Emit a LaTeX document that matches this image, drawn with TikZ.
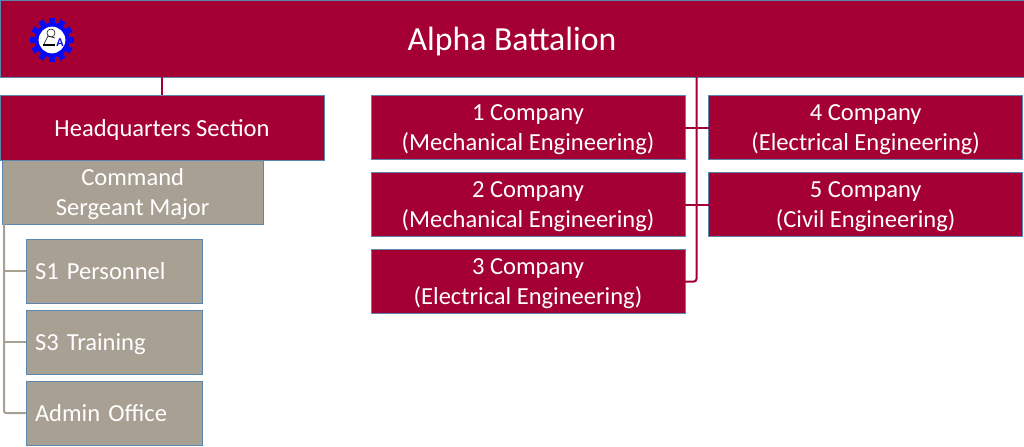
\documentclass[tikz,border=0pt]{standalone}
\usepackage{fontspec}
\setmainfont{Carlito}
\usetikzlibrary{positioning, calc}
\definecolor{crimbox}{HTML}{A50034}
\definecolor{taupebox}{HTML}{A9A094}
\definecolor{edgeblue}{HTML}{5B87AE}
\definecolor{gearblue}{HTML}{0A0AF0}
\tikzset{
  unitbox/.style ={rectangle, draw=edgeblue, fill=crimbox, line width=0.75pt, outer sep=0pt,
                   text=white, align=center, minimum width=235.5pt, minimum height=48pt,
                   inner sep=0pt, text depth=0pt, font=\fontsize{18.4}{23}\selectfont},
  hqbox/.style   ={unitbox, minimum width=243pt, minimum height=48.75pt},
  cmdbox/.style  ={unitbox, fill=taupebox, minimum width=196pt},
  staffbox/.style={unitbox, fill=taupebox, minimum width=132pt, text width=118.5pt,
                   align=left},
  crimline/.style={draw=crimbox, line width=1.5pt},
  taupeline/.style={draw=taupebox, line width=1.5pt, line join=round},
}
\begin{document}
\begin{tikzpicture}[x=0.75pt, y=-0.75pt]
    \useasboundingbox (0,0) rectangle (1024,446);
    \node[unitbox, anchor=north west, minimum width=768pt, minimum height=57.75pt,
          font=\fontsize{25.3}{30}\selectfont] (top) at (0,0) {Alpha Battalion};

    \node[hqbox, below right=13.5pt and 0pt of top.south west] (hq) {Headquarters Section};
    \node[cmdbox, below right=0pt and 1.5pt of hq.south west] (cmd) {Command\\Sergeant Major};
    \node[staffbox, below right=11.25pt and 18pt of cmd.south west] (s1) {S1 Personnel};
    \node[staffbox, below=5.25pt of s1] (s3) {S3 Training};
    \node[staffbox, below=5.25pt of s3] (admin) {Admin Office};

    \node[unitbox, anchor=north west] (co1) at (371,95.5) {1 Company\\(Mechanical Engineering)};
    \node[unitbox, below=9.75pt of co1] (co2) {2 Company\\(Mechanical Engineering)};
    \node[unitbox, below=9.75pt of co2] (co3) {3 Company\\(Electrical Engineering)};
    \node[unitbox, right=17.75pt of co1] (co4) {4 Company\\(Electrical Engineering)};
    \node[unitbox, right=17.75pt of co2] (co5) {5 Company\\(Civil Engineering)};

    % logo
    \coordinate (logo) at (52,40);
    \foreach \a in {0,30,...,330}
      \fill[gearblue, rotate around={\a:(logo)}] ($(logo)+(-3,-22)$) rectangle ($(logo)+(3,-14)$);
    \fill[gearblue] (logo) circle[radius=13pt];
    \fill[white] (logo) circle[radius=10pt];
    \fill[black] ($(logo)+(-9,4)$) rectangle ($(logo)+(3,6)$);
    \draw[black, line width=0.4pt] ($(logo)+(-1,-7)$) circle[radius=3pt];
    \draw[black, line width=0.4pt] ($(logo)+(-8,4)$) -- ($(logo)+(-4,-4)$) -- ($(logo)+(3,-2)$);
    \node[text=gearblue, inner sep=0pt, font=\bfseries\fontsize{9}{9}\selectfont] (logoa) at ($(logo)+(8,3)$) {A};

    \coordinate (trunk) at (696.5,0);
    \draw[crimline] (top.south -| hq) -- (hq.north);
    \draw[crimline, rounded corners=2pt] (top.south -| trunk) -- (co3.east -| trunk) -- (co3.east);
    \draw[crimline] (co1.east) -- (co4.west);
    \draw[crimline] (co2.east) -- (co5.west);

    \coordinate (rail) at (4,0);
    \draw[taupeline, rounded corners=1.5pt] (cmd.south -| rail) -- (admin.west -| rail) -- (admin.west);
    \draw[taupeline] (s1.west -| rail) -- (s1.west);
    \draw[taupeline] (s3.west -| rail) -- (s3.west);
  \end{tikzpicture}
\end{document}
